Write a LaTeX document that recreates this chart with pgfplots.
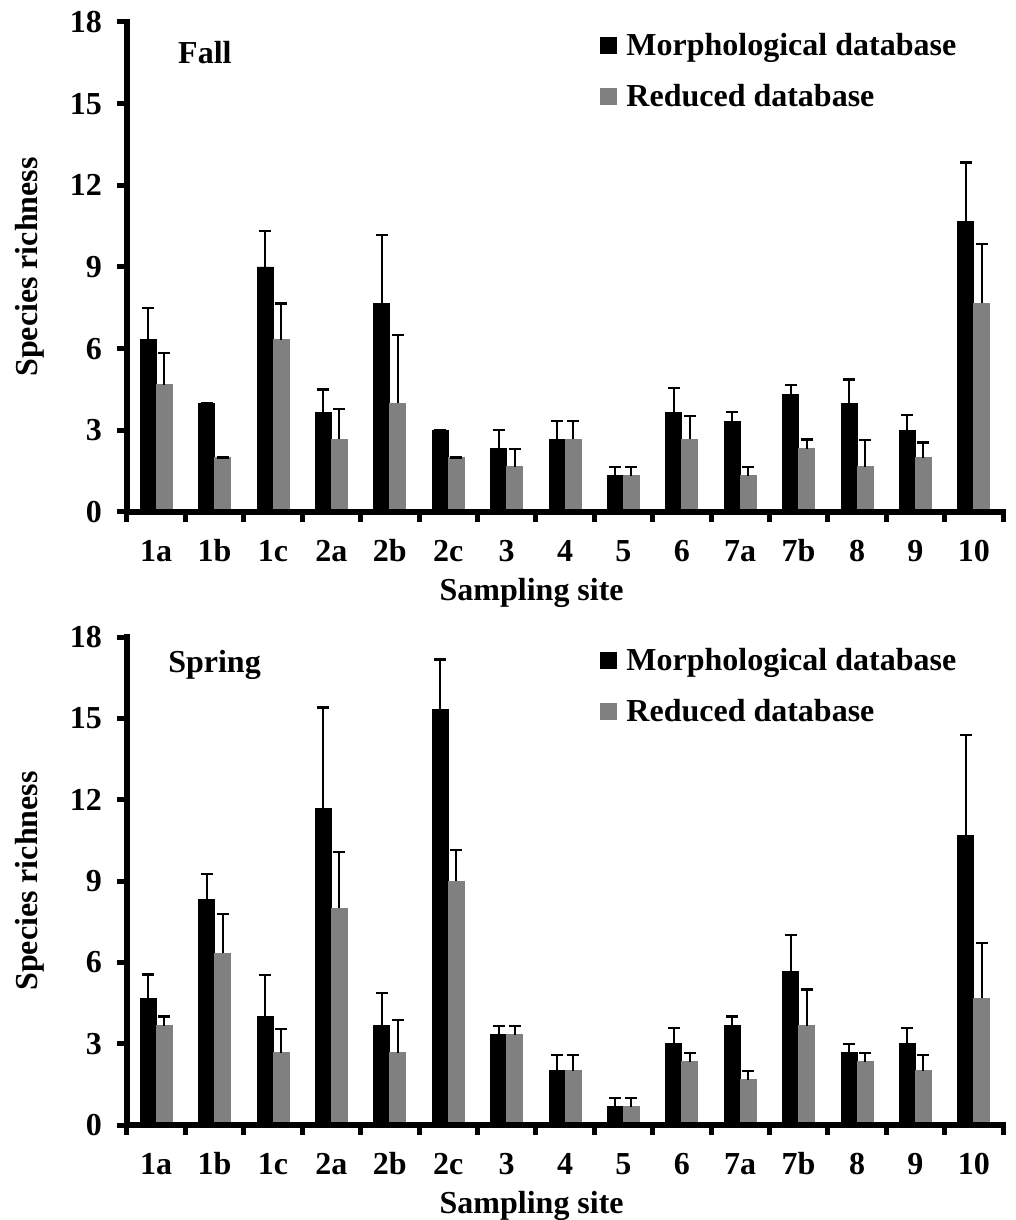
\documentclass[border=0pt]{standalone}
\usepackage{fontspec}
\setmainfont{Liberation Serif}
\usepackage{pgfplots}
\pgfplotsset{compat=1.18}
\definecolor{bargray}{HTML}{808080}
\newcommand{\bigbf}{\fontsize{16}{19}\selectfont\bfseries}
\pgfplotsset{
 myaxis/.style={
  scale only axis, width=438pt,
  xmin=0.5, xmax=15.5, ymin=0, ymax=18,
  axis lines*=left,
  axis line style={draw=none},
  tick align=outside,
  major tick length=0pt,
  ytick={0,3,...,18},
  xtick={0.5,1.5,...,15.5},
  x tick label as interval,
  xticklabels={1a,1b,1c,2a,2b,2c,3,4,5,6,7a,7b,8,9,10},
  tick label style={font=\bigbf},
  xticklabel style={text height=11pt, text depth=0pt, yshift=-10pt},
  yticklabel style={xshift=-9pt},
  /pgf/number format/assume math mode=true,
  ylabel={Species richness}, xlabel={Sampling site},
  label style={font=\bigbf},
  ylabel style={at={(axis description cs:-0.1107,0.5)}, anchor=center},
  xlabel style={at={(axis description cs:0.462,-0.165)}, anchor=center},
  ybar=0pt, bar width=8pt,
  clip=false,
  legend style={draw=none, fill=none, at={(axis description cs:0.533,0.995)}, anchor=north west, font=\bigbf, row sep=9pt, legend cell align=left},
  legend image code/.code={\fill[##1] (0pt,-4pt) rectangle (8pt,4pt);},
  error bars/y dir=plus, error bars/y explicit,
  error bars/error bar style={line width=1pt, black},
  error bars/error mark options={rotate=90, mark size=3pt, line width=1.1pt, black},
 }
}
\newcommand{\axisframe}{%
  \draw[line width=3pt, line cap=rect] (axis cs:15.5,0) -- (axis cs:0.5,0) -- (axis cs:0.5,18);
  \pgfplotsinvokeforeach{0,3,6,9,12,15,18}{\draw[line width=2.5pt] (axis cs:0.5,##1) -- ++(-5pt,0pt);}
  \pgfplotsinvokeforeach{0.5,1.5,2.5,3.5,4.5,5.5,6.5,7.5,8.5,9.5,10.5,11.5,12.5,13.5,14.5,15.5}{\draw[line width=2.5pt] (axis cs:##1,0) -- ++(0pt,-5pt);}
}
\begin{document}
\begin{tikzpicture}
\useasboundingbox (-63.5pt,256pt) rectangle (444.5pt,-354pt);
\begin{axis}[myaxis, height=245pt, at={(0,0)}, anchor=south west]
\addplot[fill=black, draw=black] coordinates {
(1,6.33) +- (0,1.17) (2,4) +- (0,0) (3,9) +- (0,1.33) (4,3.67) +- (0,0.83)
(5,7.67) +- (0,2.5) (6,3) +- (0,0) (7,2.33) +- (0,0.67) (8,2.67) +- (0,0.67)
(9,1.33) +- (0,0.33) (10,3.67) +- (0,0.88) (11,3.33) +- (0,0.33) (12,4.33) +- (0,0.33)
(13,4) +- (0,0.87) (14,3) +- (0,0.57) (15,10.67) +- (0,2.17)};
\addlegendentry{\,Morphological database}
\addplot[fill=bargray, draw=bargray] coordinates {
(1,4.67) +- (0,1.16) (2,2) +- (0,0) (3,6.33) +- (0,1.33) (4,2.67) +- (0,1.1)
(5,4) +- (0,2.5) (6,2) +- (0,0) (7,1.67) +- (0,0.63) (8,2.67) +- (0,0.67)
(9,1.33) +- (0,0.33) (10,2.67) +- (0,0.85) (11,1.33) +- (0,0.33) (12,2.33) +- (0,0.33)
(13,1.67) +- (0,0.97) (14,2) +- (0,0.55) (15,7.67) +- (0,2.17)};
\addlegendentry{\,Reduced database}
\node[anchor=base west, inner sep=0pt, font=\bigbf] at (axis cs:1.37,16.49) {Fall};
\axisframe
\end{axis}
\begin{axis}[myaxis, height=244pt, at={(0,-306.5pt)}, anchor=south west]
\addplot[fill=black, draw=black] coordinates {
(1,4.67) +- (0,0.88) (2,8.33) +- (0,0.92) (3,4) +- (0,1.53) (4,11.67) +- (0,3.73)
(5,3.67) +- (0,1.19) (6,15.33) +- (0,1.84) (7,3.33) +- (0,0.33) (8,2) +- (0,0.57)
(9,0.67) +- (0,0.33) (10,3) +- (0,0.57) (11,3.67) +- (0,0.33) (12,5.67) +- (0,1.33)
(13,2.67) +- (0,0.33) (14,3) +- (0,0.57) (15,10.67) +- (0,3.73)};
\addlegendentry{\,Morphological database}
\addplot[fill=bargray, draw=bargray] coordinates {
(1,3.67) +- (0,0.33) (2,6.33) +- (0,1.45) (3,2.67) +- (0,0.86) (4,8) +- (0,2.07)
(5,2.67) +- (0,1.2) (6,9) +- (0,1.14) (7,3.33) +- (0,0.33) (8,2) +- (0,0.57)
(9,0.67) +- (0,0.33) (10,2.33) +- (0,0.34) (11,1.67) +- (0,0.33) (12,3.67) +- (0,1.33)
(13,2.33) +- (0,0.34) (14,2) +- (0,0.57) (15,4.67) +- (0,2.03)};
\addlegendentry{\,Reduced database}
\node[anchor=base west, inner sep=0pt, font=\bigbf] at (axis cs:1.2,16.68) {Spring};
\axisframe
\end{axis}
\end{tikzpicture}
\end{document}
